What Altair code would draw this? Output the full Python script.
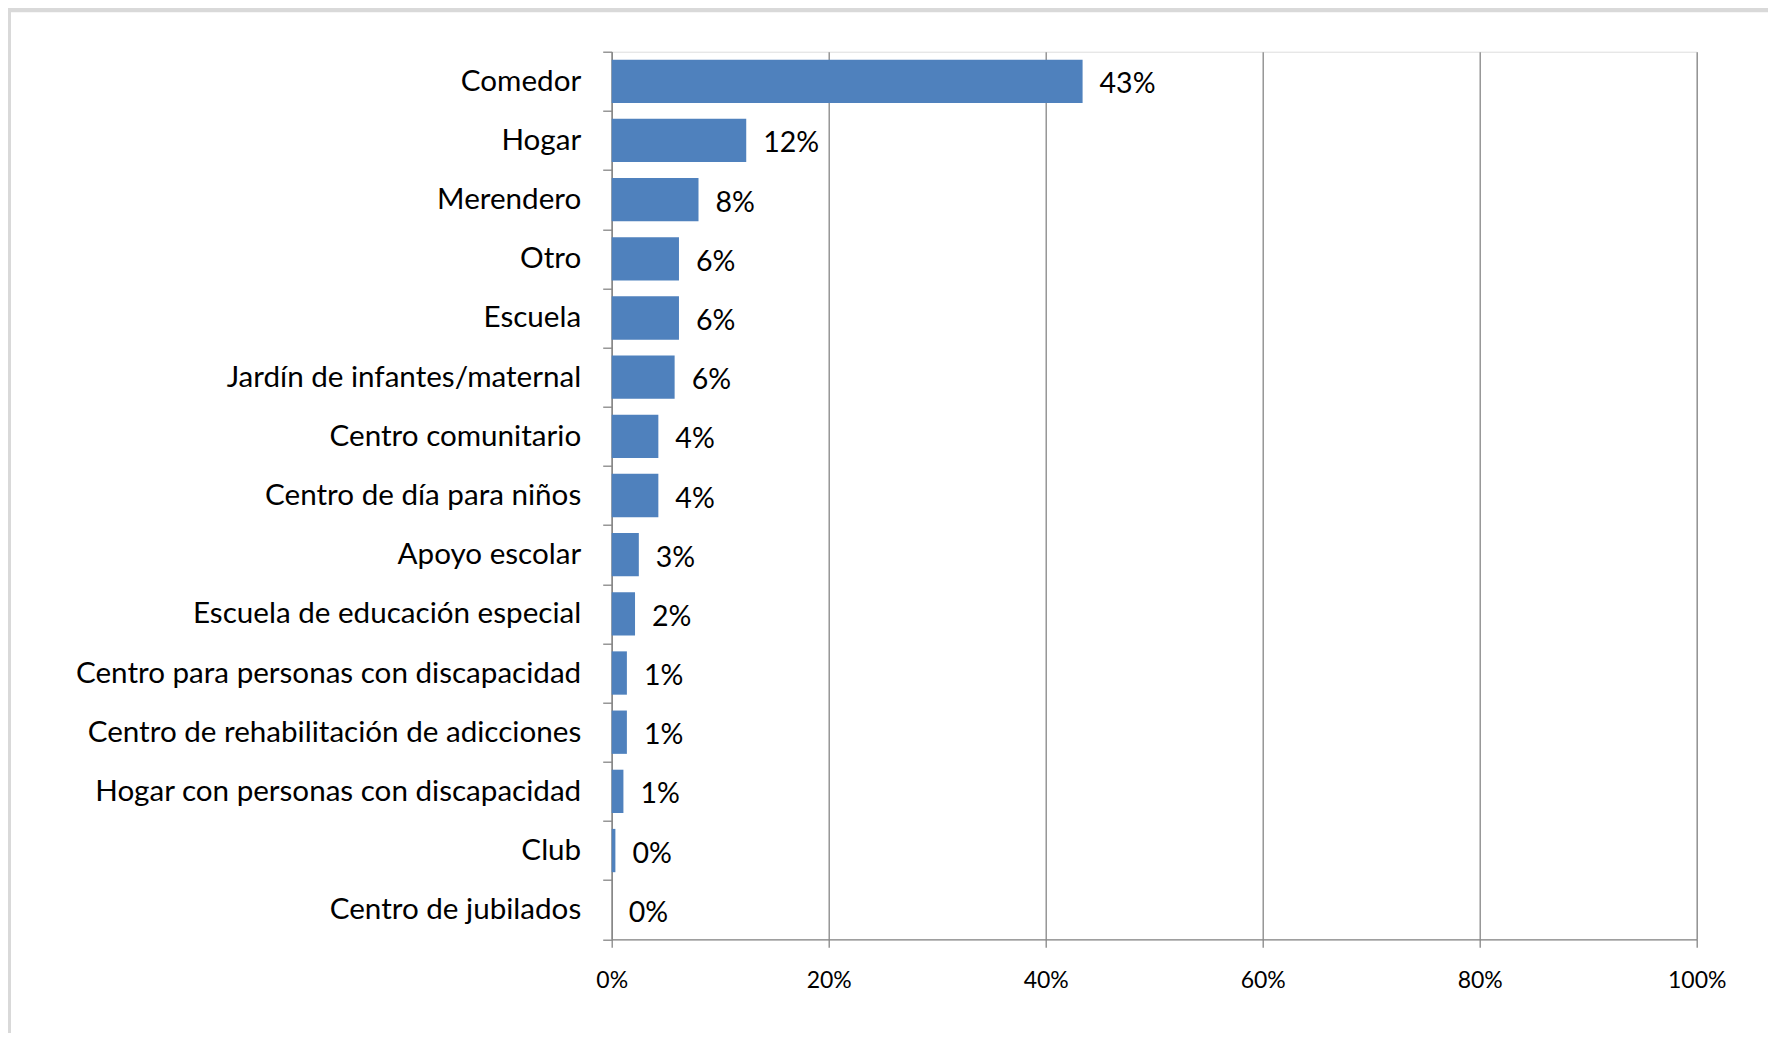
import altair as alt
import pandas as pd

categories = [
    "Comedor", "Hogar", "Merendero", "Otro", "Escuela",
    "Jardín de infantes/maternal", "Centro comunitario",
    "Centro de día para niños", "Apoyo escolar",
    "Escuela de educación especial",
    "Centro para personas con discapacidad",
    "Centro de rehabilitación de adicciones",
    "Hogar con personas con discapacidad", "Club", "Centro de jubilados",
]
values = [0.434, 0.124, 0.080, 0.062, 0.062, 0.058, 0.043, 0.043, 0.025,
          0.0215, 0.014, 0.014, 0.0108, 0.0034, 0.0]
labels = ["43%", "12%", "8%", "6%", "6%", "6%", "4%", "4%", "3%", "2%",
          "1%", "1%", "1%", "0%", "0%"]
x_ticks = [0, 0.2, 0.4, 0.6, 0.8, 1.0]

df = pd.DataFrame({"category": categories, "value": values, "label": labels})

GREY = "#868686"
PLOT_W = 1085
PLOT_H = 887.6
PAD = {"left": 603.7, "top": 43.7, "right": 71.3, "bottom": 93.7}

x_enc = alt.X(
    "value:Q",
    scale=alt.Scale(domain=[0, 1], nice=False),
    axis=alt.Axis(
        values=x_ticks, format=".0%", grid=True, gridColor=GREY, gridWidth=1.3,
        domainColor=GREY, domainWidth=1.3, tickColor=GREY, tickWidth=1.3,
        tickSize=8, labelFontSize=23, labelColor="black", labelPadding=22,
        labelFont="Lato", labelFlush=False, labelOverlap=False, title=None,
    ),
)
y_enc = alt.Y(
    "category:N",
    sort=categories,
    scale=alt.Scale(paddingInner=0, paddingOuter=0),
    axis=alt.Axis(
        tickBand="extent", tickSize=9, tickColor=GREY, tickWidth=1.3,
        domainColor=GREY, domainWidth=1.3, labelFontSize=29.6, labelPadding=22,
        labelLimit=0, labelColor="black", labelFont="Lato", grid=False,
        title=None,
    ),
)

bars = alt.Chart(df).mark_bar(
    color="#4F81BD", height=alt.RelativeBandSize(band=0.732)
).encode(x=x_enc, y=y_enc)

text = alt.Chart(df).mark_text(
    align="left", baseline="middle", dx=17, dy=3, fontSize=28.5, font="Lato",
    color="black",
).encode(x="value:Q", y=alt.Y("category:N", sort=categories), text="label:N")

dummy = pd.DataFrame({"d": [0]})
top_border = alt.Chart(dummy).mark_rule(color="#d9d9d9", strokeWidth=5).encode(
    x=alt.value(-606), x2=alt.value(1156.3), y=alt.value(-41.9)
)
left_border = alt.Chart(dummy).mark_rule(color="#d9d9d9", strokeWidth=5).encode(
    x=alt.value(-603.2), y=alt.value(-44.4), y2=alt.value(981.3)
)

chart = alt.layer(bars, text, top_border, left_border).properties(
    width=PLOT_W, height=PLOT_H, padding=PAD,
    autosize=alt.AutoSizeParams(type="none"),
    background="white",
).configure_view(strokeWidth=0).configure(font="Lato")

chart.save("out.html", embed_options={"renderer": "svg", "actions": False})
